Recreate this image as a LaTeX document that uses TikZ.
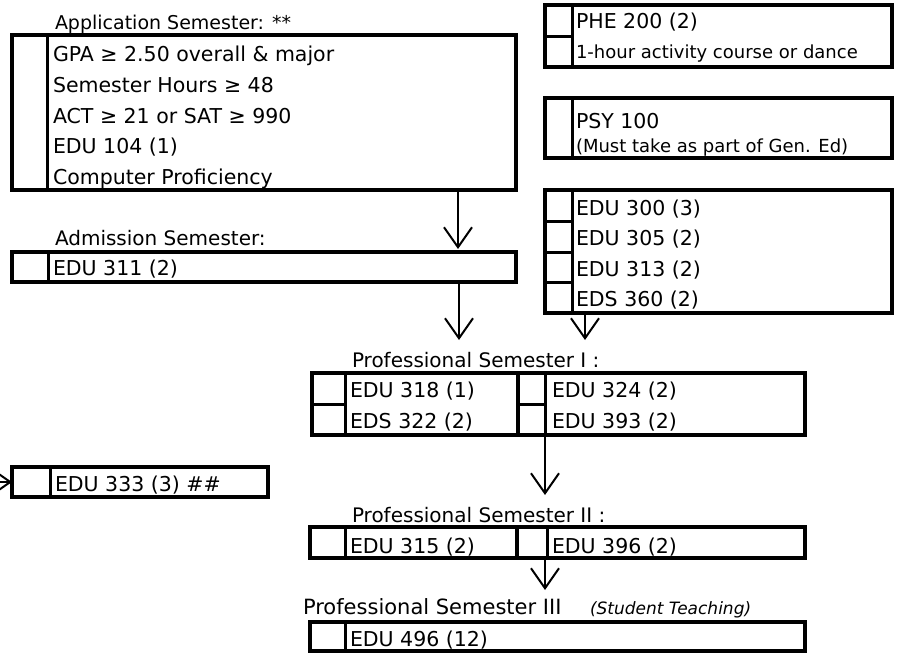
\documentclass[tikz,border=0pt]{standalone}
\usepackage{fontspec}
\setmainfont{DejaVu Sans}
\usetikzlibrary{arrows.meta,calc}
\begin{document}
\begin{tikzpicture}[x=1pt,y=-1pt,
  box/.style={draw, line width=4pt, rectangle, inner sep=0pt, outer sep=0pt, anchor=north west},
  divline/.style={line width=3pt},
  midline/.style={line width=4pt},
  txt/.style={inner sep=0pt, outer sep=0pt, anchor=base west, font=\fontsize{20.5}{24}\selectfont},
  labeltxt/.style={txt, font=\fontsize{20}{24}\selectfont},
  smalltxt/.style={txt, font=\fontsize{18}{21}\selectfont},
  arr/.style={line width=2pt, -{Straight Barb[length=20pt,width=28pt]}}
]
\useasboundingbox (0,0) rectangle (898,653);

% ---------- boxes ----------
\node[box, minimum width=504pt, minimum height=155pt] (app) at (12,35) {};
\node[box, minimum width=504pt, minimum height=30pt] (adm) at (12,252) {};
\node[box, minimum width=347pt, minimum height=62pt] (phe) at (545,5) {};
\node[box, minimum width=347pt, minimum height=60pt] (psy) at (545,98) {};
\node[box, minimum width=347pt, minimum height=123pt] (edu) at (545,190) {};
\node[box, minimum width=493pt, minimum height=62pt] (ps1) at (312,373) {};
\node[box, minimum width=256pt, minimum height=30pt] (e333) at (12,467) {};
\node[box, minimum width=495pt, minimum height=31pt] (ps2) at (310,527) {};
\node[box, minimum width=495pt, minimum height=29pt] (ps3) at (310,622) {};

% ---------- cell dividers ----------
\draw[divline] (47,35) -- (47,190);
\draw[divline] (48,252) -- (48,282);
\draw[divline] (572,5) -- (572,67);
\draw[divline] (545,36) -- (572,36);
\draw[divline] (572,98) -- (572,158);
\draw[divline] (572,190) -- (572,313);
\draw[divline] (545,221) -- (572,221);
\draw[divline] (545,252) -- (572,252);
\draw[divline] (545,282) -- (572,282);
\draw[divline] (345,373) -- (345,435);
\draw[midline] (518,373) -- (518,435);
\draw[divline] (545,373) -- (545,435);
\draw[divline] (312,404) -- (345,404);
\draw[divline] (518,404) -- (545,404);
\draw[divline] (50,467) -- (50,497);
\draw[divline] (345,527) -- (345,558);
\draw[midline] (517,527) -- (517,558);
\draw[divline] (547,527) -- (547,558);
\draw[divline] (345,622) -- (345,651);

% ---------- labels ----------
\node[labeltxt, font=\fontsize{19}{23}\selectfont] (appL) at (55,30) {Application Semester: **};
\node[txt] (app1) at (53,61) {GPA ≥ 2.50 overall \& major};
\node[txt] (app2) at (53,92) {Semester Hours ≥ 48};
\node[txt] (app3) at (53,123) {ACT ≥ 21 or SAT ≥ 990};
\node[txt] (app4) at (53,153) {EDU 104 (1)};
\node[txt] (app5) at (53,184) {Computer Proficiency};

\node[labeltxt] (admL) at (55,245) {Admission Semester:};
\node[txt] (adm1) at (53,275) {EDU 311 (2)};

\node[txt] (phe1) at (576,28) {PHE 200 (2)};
\node[smalltxt] (phe2) at (576,58) {1-hour activity course or dance};
\node[txt] (psy1) at (576,128) {PSY 100};
\node[smalltxt] (psy2) at (576,152) {(Must take as part of Gen. Ed)};

\node[txt] (edu1) at (576,215) {EDU 300 (3)};
\node[txt] (edu2) at (576,245) {EDU 305 (2)};
\node[txt] (edu3) at (576,276) {EDU 313 (2)};
\node[txt] (edu4) at (576,306) {EDS 360 (2)};

\node[labeltxt] (ps1L) at (352,367) {Professional Semester I :};
\node[txt] (ps1a) at (350,397) {EDU 318 (1)};
\node[txt] (ps1b) at (350,428) {EDS 322 (2)};
\node[txt] (ps1c) at (552,397) {EDU 324 (2)};
\node[txt] (ps1d) at (552,428) {EDU 393 (2)};

\node[txt] (e333t) at (55,491) {EDU 333 (3) \#\#};

\node[labeltxt] (ps2L) at (352,522) {Professional Semester II :};
\node[txt] (ps2a) at (350,553) {EDU 315 (2)};
\node[txt] (ps2b) at (552,553) {EDU 396 (2)};

\node[labeltxt, font=\fontsize{21}{25}\selectfont] (ps3L) at (303,614) {Professional Semester III};
\node[smalltxt, font=\fontsize{17}{20}\selectfont\itshape] (ps3N) at (590,614) {(Student Teaching)};
\node[txt] (ps3a) at (350,646) {EDU 496 (12)};

% ---------- arrows ----------
\coordinate (a1e) at (458,249);
\coordinate (a2e) at (459,340);
\coordinate (a3e) at (585,340);
\coordinate (a4e) at (545,495);
\coordinate (a5e) at (545,590);
\coordinate (a6s) at (-30,482);
\draw[arr] (app.south -| a1e) -- (a1e);
\draw[arr] (adm.south -| a2e) -- (a2e);
\draw[arr] (edu.south -| a3e) -- (a3e);
\draw[arr] (ps1.south -| a4e) -- (a4e);
\draw[arr] (ps2.south -| a5e) -- (a5e);
\draw[arr] (a6s) -- (e333.west);
\end{tikzpicture}
\end{document}
